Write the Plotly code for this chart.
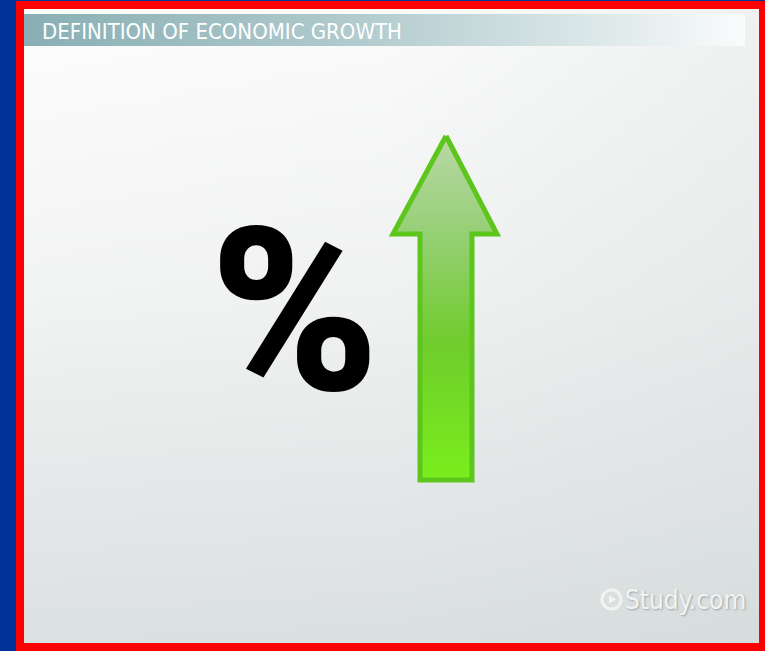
import plotly.graph_objects as go

W, H = 765, 651

# content
title_text = "DEFINITION OF ECONOMIC GROWTH"
symbol_text = "%"
watermark_text = "Study.com"

# arrow outline (pixel space, y downward)
arrow_x = [446, 497, 472, 472, 420, 420, 393, 446]
arrow_y = [136, 234, 234, 480, 480, 234, 234, 136]

# inner panel corners
panel_x = [24, 759, 759, 24, 24]
panel_y = [9, 9, 643, 643, 9]

# title band corners
band_x = [24, 745, 745, 24, 24]
band_y = [14, 14, 46, 46, 14]

fig = go.Figure()

# background: vertical fade
fig.add_trace(go.Scatter(
    x=panel_x, y=panel_y, mode="lines", line=dict(width=0), fill="toself",
    fillgradient=dict(type="vertical", start=9, stop=643,
                      colorscale=[[0, "#fdfdfd"], [0.45, "#f2f3f3"], [1, "#dbe0e0"]]),
    hoverinfo="skip", showlegend=False,
))
# background: slight horizontal shading to the right
fig.add_trace(go.Scatter(
    x=panel_x, y=panel_y, mode="lines", line=dict(width=0), fill="toself",
    fillgradient=dict(type="horizontal", start=24, stop=759,
                      colorscale=[[0, "rgba(200,208,208,0)"], [0.5, "rgba(200,208,208,0.05)"],
                                  [1, "rgba(200,208,208,0.25)"]]),
    hoverinfo="skip", showlegend=False,
))

# title band with horizontal fade
fig.add_trace(go.Scatter(
    x=band_x, y=band_y, mode="lines", line=dict(width=0), fill="toself",
    fillgradient=dict(type="horizontal", start=24, stop=745,
                      colorscale=[[0, "#88afb4"], [0.45, "#b0cacd"], [0.8, "#dde8e9"], [1, "#fafcfc"]]),
    hoverinfo="skip", showlegend=False,
))

# arrow
fig.add_trace(go.Scatter(
    x=arrow_x, y=arrow_y, mode="lines", fill="toself",
    line=dict(color="#5cc61c", width=5),
    fillgradient=dict(type="vertical", start=136, stop=480,
                      colorscale=[[0, "#b9d8a6"], [0.3, "#94cf72"], [0.6, "#6fcc2c"], [1, "#7aee1c"]]),
    hoverinfo="skip", showlegend=False,
))

fig.add_annotation(x=40, y=31, xref="x", yref="y", text=title_text, showarrow=False,
                   xanchor="left", yanchor="middle",
                   font=dict(family="DejaVu Sans Condensed, DejaVu Sans, sans-serif",
                             size=22, color="#ffffff"))

fig.add_annotation(x=294, y=312, xref="x", yref="y", text=symbol_text, showarrow=False,
                   xanchor="center", yanchor="middle",
                   font=dict(family="Roboto, sans-serif",
                             size=228, color="#000000", weight=900))

# watermark
fig.add_shape(type="circle", x0=602, y0=590, x1=621, y1=609, xref="x", yref="y",
              line=dict(color="#f2f4f4", width=3))
fig.add_shape(type="path", path="M 609 595 L 616 599.5 L 609 604 Z", xref="x", yref="y",
              fillcolor="#f2f4f4", line=dict(width=0))
fig.add_annotation(x=623, y=600, xref="x", yref="y", text=watermark_text, showarrow=False,
                   xanchor="left", yanchor="middle",
                   font=dict(family="DejaVu Sans Condensed, DejaVu Sans, sans-serif",
                             size=26, color="#f2f4f4", shadow="1px 1px 2px #9aa6a6"))

# red frame
for x0, y0, x1, y1 in [(16, 1, 765, 9), (16, 1, 24, 651), (759, 1, 765, 651), (16, 643, 765, 651)]:
    fig.add_shape(type="rect", x0=x0, y0=y0, x1=x1, y1=y1, xref="x", yref="y",
                  fillcolor="#ff0000", line=dict(width=0))

fig.update_xaxes(range=[0, W], visible=False, fixedrange=True)
fig.update_yaxes(range=[H, 0], visible=False, fixedrange=True)
fig.update_layout(width=W, height=H, margin=dict(l=0, r=0, t=0, b=0),
                  paper_bgcolor="#003399", plot_bgcolor="#003399", showlegend=False)

fig.write_html("out.html", config={"displayModeBar": False},
               post_script="document.body.style.margin='0';document.body.style.overflow='hidden';")
